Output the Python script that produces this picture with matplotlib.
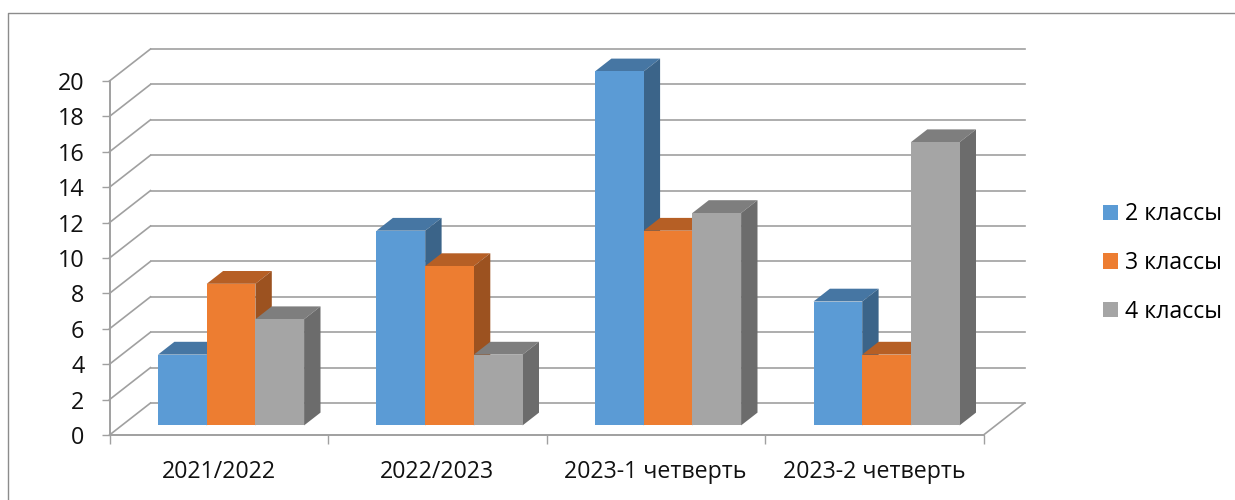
import matplotlib
matplotlib.use('Agg')
import matplotlib.pyplot as plt
from matplotlib.lines import Line2D
from matplotlib.patches import Patch, Polygon

categories = ["2021/2022", "2022/2023", "2023-1 четверть", "2023-2 четверть"]
series_names = ["2 классы", "3 классы", "4 классы"]
class_2 = [4, 11, 20, 7]
class_3 = [8, 9, 11, 4]
class_4 = [6, 4, 12, 16]
y_ticks = list(range(0, 21, 2))

W, H = 1235, 500
FONT = 'Open Sans'
GRID = '#a0a0a0'

# colours per series: front, top, side
colors = [('#5B9BD5', '#4676A3', '#3B6489'),
          ('#ED7D31', '#B65F25', '#9C5220'),
          ('#A5A5A5', '#7E7E7E', '#6C6C6C')]

# depth of the fake 3d box, in data units
DX = 41 / 218.5
DY = 32 / 17.7
BAR_W = 48.7 / 218.5


def project(x, v, d):
    return (x + d * DX, v + d * DY)


def draw_bar(ax, left, value, cols):
    right = left + BAR_W
    front, top, side = cols
    d0, d1 = 0.3, 0.7
    ax.add_patch(Polygon([project(left, value, d0), project(right, value, d0),
                          project(right, value, d1), project(left, value, d1)],
                         fc=top, ec='none', clip_on=False, zorder=3))
    ax.add_patch(Polygon([project(right, 0, d0), project(right, 0, d1),
                          project(right, value, d1), project(right, value, d0)],
                         fc=side, ec='none', clip_on=False, zorder=3))
    ax.add_patch(Polygon([project(left, 0, d0), project(right, 0, d0),
                          project(right, value, d0), project(left, value, d0)],
                         fc=front, ec='none', clip_on=False, zorder=3))


fig = plt.figure(figsize=(W / 100, H / 100), dpi=100)
ax = fig.add_axes([109.5 / W, (H - 435) / H, 874 / W, 354 / H])
ax.patch.set_alpha(0)
ax.set_xlim(0, len(categories))
ax.set_ylim(0, 20)

for v in y_ticks:
    ax.plot([0, DX], [v, v + DY], color=GRID, lw=1.2, clip_on=False, zorder=1)
    ax.plot([DX, len(categories) + DX], [v + DY, v + DY], color=GRID, lw=1.2,
            clip_on=False, zorder=1)
ax.plot([len(categories), len(categories) + DX], [0, DY], color=GRID, lw=1.2,
        clip_on=False, zorder=1)

for i in range(len(categories)):
    for j, values in enumerate([class_2, class_3, class_4]):
        left = i + 0.5 - 1.5 * BAR_W + j * BAR_W
        draw_bar(ax, left, values[i], colors[j])

for name in ['top', 'right']:
    ax.spines[name].set_visible(False)
for name in ['left', 'bottom']:
    ax.spines[name].set_color(GRID)
    ax.spines[name].set_linewidth(1.4)

ax.set_yticks(y_ticks)
ax.set_xticks(range(len(categories) + 1))
ax.set_xticklabels([])
ax.set_xticks([i + 0.5 for i in range(len(categories))], minor=True)
ax.set_xticklabels(categories, minor=True, fontsize=16.7, family=FONT, color='#111111')
ax.tick_params(axis='x', which='major', length=6.5, width=1, color=GRID)
ax.tick_params(axis='x', which='minor', length=0, pad=18)
ax.tick_params(axis='y', length=6, width=1, color=GRID, pad=12, labelsize=16.8,
               labelcolor='#111111')
for label in ax.get_yticklabels():
    label.set_family(FONT)

handles = [Patch(fc=c[0], ec='none') for c in colors]
fig.legend(handles, series_names, loc='center left',
           bbox_to_anchor=(1103 / W, (H - 263) / H), frameon=False,
           prop={'family': FONT, 'size': 16.7}, handlelength=0.65, handleheight=0.65,
           handletextpad=0.3, labelspacing=1.06, borderpad=0, borderaxespad=0)

# outer chart frame, the bottom and right run off the picture
fig.add_artist(Line2D([8 / W, 8 / W, 1], [0, (H - 13) / H, (H - 13) / H],
                      color='#8c8c8c', lw=1, transform=fig.transFigure))

fig.savefig('out.png', dpi=100)
